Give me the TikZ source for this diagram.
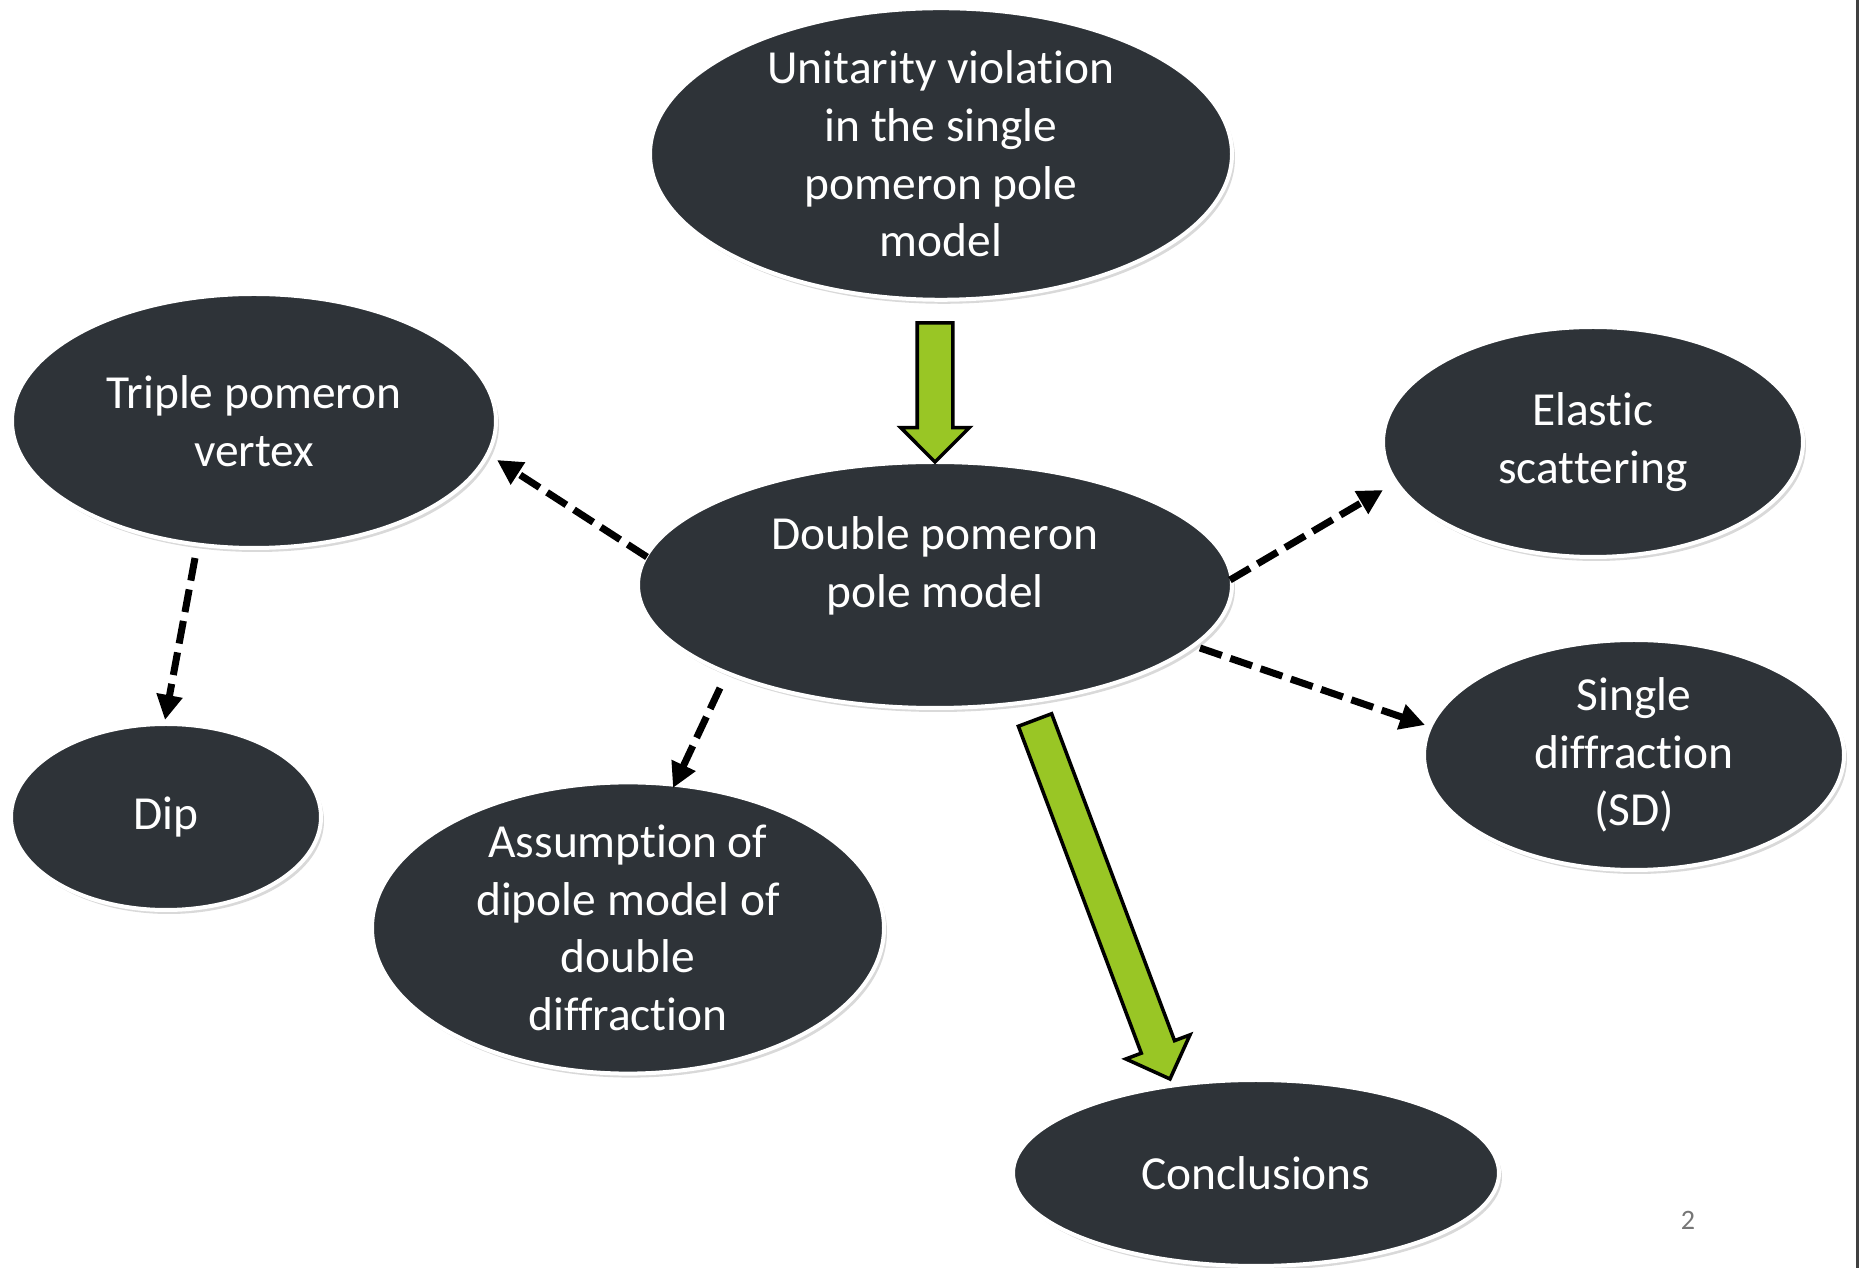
\documentclass[tikz,border=0pt]{standalone}
\usepackage{fontspec}
\setmainfont{Carlito}[RawFeature={-liga,-clig,-calt,-dlig}]
\usetikzlibrary{shapes.geometric,shapes.arrows,arrows.meta,shadows,calc}

\definecolor{fondo}{RGB}{46,51,56}
\definecolor{verde}{RGB}{153,198,37}
\definecolor{numgris}{RGB}{118,118,118}

\tikzset{
    burbuja/.style={ellipse, fill=fondo, draw=white, line width=0.04cm, text=white, align=center, inner sep=0pt,
        font=\fontsize{13.5}{16.4}\selectfont,
        drop shadow={opacity=0.3, shadow xshift=0.03cm, shadow yshift=-0.04cm}},
    textoblanco/.style={text=white, align=center, inner sep=0pt, font=\fontsize{13.5}{16.4}\selectfont},
    flechaverde/.style={single arrow, fill=verde, draw=black, line width=1pt, inner xsep=0pt, inner ysep=0.16cm,
        single arrow head extend=0.165cm, outer sep=0pt},
    punteada/.style={-{Triangle[length=0.25cm,width=0.25cm]}, line width=0.07cm, dash pattern=on 0.23cm off 0.09cm}
}

\begin{document}
\begin{tikzpicture}
            \useasboundingbox (0,0) rectangle (18.61,-12.68);

            % Burbujas
            \node[burbuja, minimum width=5.82cm, minimum height=2.90cm] (unit) at (9.41,-1.54) {Unitarity violation\\in the single\\pomeron pole\\model};
            \node[burbuja, minimum width=5.94cm, minimum height=2.46cm] (dbl) at (9.35,-5.85) {};
            \node[textoblanco] (dbltxt) at ($(dbl.center)+(0,0.19)$) {Double pomeron\\pole model};
            \node[burbuja, minimum width=4.84cm, minimum height=2.54cm] (triple) at (2.54,-4.21) {Triple pomeron\\vertex};
            \node[burbuja, minimum width=4.20cm, minimum height=2.30cm] (elastic) at (15.93,-4.42) {Elastic\\scattering};
            \node[burbuja, minimum width=4.20cm, minimum height=2.30cm] (sd) at (16.34,-7.55) {Single\\diffraction\\(SD)};
            \node[burbuja, minimum width=3.10cm, minimum height=1.86cm] (dip) at (1.66,-8.17) {Dip};
            \node[burbuja, minimum width=5.12cm, minimum height=2.76cm] (assum) at (6.28,-9.28) {Assumption of\\dipole model of\\double\\diffraction};
            \node[burbuja, minimum width=4.86cm, minimum height=1.86cm] (concl) at (12.56,-11.73) {Conclusions};

            % Flechas verdes
            \coordinate (ga1) at ($(unit.center)+(-0.06,-1.69)$);
            \coordinate (gb1) at ($(dbl.center)+(0,1.23)$);
            \coordinate (ga2) at ($(dbl.center)+(1.00,-1.35)$);
            \coordinate (gb2) at ($(concl.center)+(-0.86,0.94)$);
            \path let \p1=($(gb1)-(ga1)$), \n1={veclen(\x1,\y1)} in
                (ga1) -- (gb1) node[pos=0, anchor=tail, sloped, allow upside down, flechaverde, minimum height=\n1] (g1) {};
            \path let \p1=($(gb2)-(ga2)$), \n1={veclen(\x1,\y1)} in
                (ga2) -- (gb2) node[pos=0, anchor=tail, sloped, allow upside down, flechaverde, minimum height=\n1] (g2) {};

            % Flechas punteadas
            \draw[punteada] ($(dbl.center)+(-2.88,0.28)$) -- ($(triple.center)+(2.43,-0.39)$);
            \draw[punteada] ($(dbl.center)+(2.95,0.05)$) -- ($(elastic.center)+(-2.10,-0.48)$);
            \draw[punteada] ($(dbl.center)+(2.65,-0.63)$) -- ($(sd.center)+(-2.09,0.30)$);
            \draw[punteada] ($(dbl.center)+(-2.15,-1.03)$) -- ($(assum.center)+(0.45,1.40)$);
            \draw[punteada] ($(triple.center)+(-0.59,-1.37)$) -- ($(dip.center)+(-0.01,0.97)$);

            % Numero de pagina y borde
            \node[text=numgris, font=\fontsize{8}{10}\selectfont] (pag) at (16.88,-12.20) {2};
            \draw[line width=0.03cm, black!75] (18.57,0) -- (18.57,-12.68);
        \end{tikzpicture}
\end{document}
